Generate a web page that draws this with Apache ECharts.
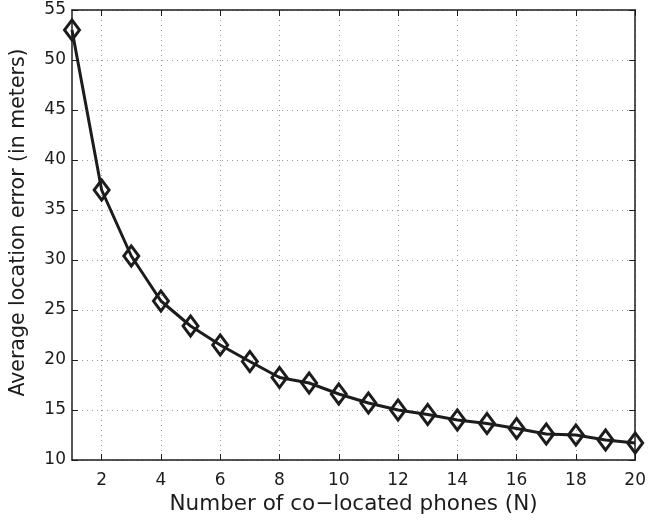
<!DOCTYPE html>
<html>
<head>
<meta charset="utf-8">
<script src="https://cdn.jsdelivr.net/npm/echarts@6/dist/echarts.min.js"></script>
<style>
  html, body { margin: 0; padding: 0; background: #fff; }
  #chart { width: 649px; height: 523px; }
</style>
</head>
<body>
<div id="chart"></div>
<script>
// Number of co-located phones
const phoneCounts = ['1','2','3','4','5','6','7','8','9','10','11','12','13','14','15','16','17','18','19','20'];
// Average location error in meters for each phone count
const avgError = [53.0, 37.0, 30.4, 25.9, 23.4, 21.5, 19.85, 18.25, 17.7, 16.6, 15.7, 15.0, 14.55, 14.0, 13.65, 13.15, 12.6, 12.5, 12.0, 11.7];
// Y tick range
const yTicks = { min: 10, max: 55, step: 5 };

const xTitle = 'Number of co\u2212located phones (N)';
const yTitle = 'Average location error (in meters)';

const FONT = '"DejaVu Sans", "Liberation Sans", Arial, sans-serif';
const INK = '#1c1c1c';
const evenOnly = (idx, val) => Number(val) % 2 === 0;
const gridDots = { color: '#9a9a9a', width: 1, type: [1, 4] };

const chart = echarts.init(document.getElementById('chart'), null, { renderer: 'canvas' });
chart.setOption({
  animation: false,
  backgroundColor: '#fff',
  grid: { left: 67, right: 11, top: 10, bottom: 63, containLabel: false },
  xAxis: [
    {
      type: 'category',
      data: phoneCounts,
      boundaryGap: false,
      position: 'bottom',
      name: xTitle,
      nameLocation: 'middle',
      nameGap: 33,
      nameTextStyle: { fontFamily: FONT, fontSize: 21.5, color: INK },
      axisLine: { show: true, lineStyle: { color: INK, width: 1.5 } },
      axisTick: { show: true, inside: true, length: 6, interval: evenOnly, lineStyle: { color: INK, width: 1 } },
      axisLabel: { show: true, interval: evenOnly, margin: 12, fontFamily: FONT, fontSize: 17, color: INK },
      splitLine: { show: true, interval: evenOnly, lineStyle: gridDots }
    },
    {
      type: 'category',
      data: phoneCounts,
      boundaryGap: false,
      position: 'top',
      axisLine: { show: true, lineStyle: { color: INK, width: 1.5 } },
      axisTick: { show: true, inside: true, length: 6, interval: evenOnly, lineStyle: { color: INK, width: 1 } },
      axisLabel: { show: false },
      splitLine: { show: false }
    }
  ],
  yAxis: [
    {
      type: 'value',
      min: yTicks.min,
      max: yTicks.max,
      interval: yTicks.step,
      position: 'left',
      name: yTitle,
      nameLocation: 'middle',
      nameGap: 43,
      nameTextStyle: { fontFamily: FONT, fontSize: 20.5, color: INK, padding: [0, 0, 0, 25] },
      axisLine: { show: true, lineStyle: { color: INK, width: 1.5 } },
      axisTick: { show: true, inside: true, length: 6, lineStyle: { color: INK, width: 1 } },
      axisLabel: { show: true, margin: 6, fontFamily: FONT, fontSize: 17, color: INK },
      splitLine: { show: true, lineStyle: gridDots }
    },
    {
      type: 'value',
      min: yTicks.min,
      max: yTicks.max,
      interval: yTicks.step,
      position: 'right',
      axisLine: { show: true, lineStyle: { color: INK, width: 1.5 } },
      axisTick: { show: true, inside: true, length: 6, lineStyle: { color: INK, width: 1 } },
      axisLabel: { show: false },
      splitLine: { show: false }
    }
  ],
  series: [
    {
      type: 'line',
      xAxisIndex: 0,
      yAxisIndex: 0,
      data: avgError,
      symbol: 'diamond',
      symbolSize: [15, 20],
      showSymbol: true,
      showAllSymbol: true,
      lineStyle: { color: INK, width: 3 },
      itemStyle: { color: 'rgba(255,255,255,0)', borderColor: INK, borderWidth: 3 },
      emphasis: { disabled: true },
      z: 5
    }
  ]
});
</script>
</body>
</html>
